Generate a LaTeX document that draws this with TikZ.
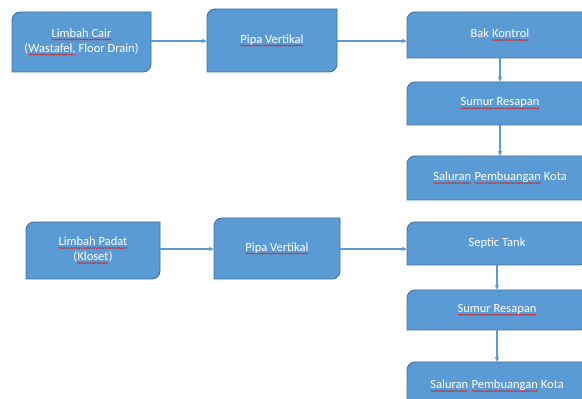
\documentclass[tikz,border=0pt]{standalone}
\usepackage{fontspec}
\setmainfont{Carlito}
\usetikzlibrary{arrows.meta,decorations.pathmorphing}
\definecolor{boxfill}{HTML}{5B9BD5}
\definecolor{boxline}{HTML}{41719C}
\definecolor{linkcol}{HTML}{5B9BD5}
\definecolor{spell}{HTML}{D02020}
\tikzset{
  boxshape/.style={fill=boxfill,draw=boxline,line width=0.9pt},
  boxtext/.style={text=white,font=\fontsize{12.5}{15}\selectfont,align=center,inner sep=0pt},
  link/.style={draw=linkcol,line width=1.1pt,-{Stealth[length=5pt,width=4.5pt]}},
  wavy/.style={draw=spell,line width=0.5pt,decorate,decoration={snake,amplitude=0.6pt,segment length=2.4pt}},
}
\newcommand\sqw[1]{\tikz[baseline=(w.base)]{\node[inner sep=0pt,outer sep=0pt,minimum width=0pt,minimum height=0pt,anchor=base,draw=none,fill=none] (w) {#1}; \draw[wavy] ([yshift=-2.3pt]w.base west) -- ([yshift=-2.3pt]w.base east);}}
% name, x1, top, x2, bottom, text
\newcommand\mybox[6]{%
  \path[boxshape] (#2,#3-8) arc[start angle=180,end angle=90,radius=8] -- (#4,#3) -- (#4,#5+8) arc[start angle=0,end angle=-90,radius=8] -- (#2,#5) -- cycle;
  \node[boxtext,minimum width=#4-#2,minimum height=#3-#5] (#1) at ({(#2+#4)/2},{(#3+#5)/2}) {#6};
}
\begin{document}
\begin{tikzpicture}[x=1pt,y=1pt]
\useasboundingbox (0,0) rectangle (582,399);
\clip (0,0) rectangle (582,399);
\fill[white] (0,0) rectangle (582,399);
% top row
\mybox{cair}{12}{387}{151}{327}{\sqw{Limbah Cair}\\(\sqw{Wastafel,} Floor Drain)}
\mybox{pipa1}{207}{390}{337}{327}{\sqw{Pipa Vertikal}}
\mybox{bak}{407}{387}{593}{341}{Bak \sqw{Kontrol}}
\mybox{sumur1}{407}{317}{593}{274}{\sqw{Sumur Resapan}}
\mybox{kota1}{407}{243}{593}{199}{\sqw{Saluran} \sqw{Pembuangan} Kota}
% bottom row
\mybox{padat}{26}{177}{160}{120}{\sqw{Limbah Padat}\\(\sqw{Kloset})}
\mybox{pipa2}{214}{181}{340}{120}{\sqw{Pipa Vertikal}}
\mybox{septic}{407}{177}{587}{134}{Septic Tank}
\mybox{sumur2}{407}{109}{587}{69}{\sqw{Sumur Resapan}}
\mybox{kota2}{407}{37}{587}{-11}{\sqw{Saluran} \sqw{Pembuangan} Kota}
% connectors
\draw[link] (cair.east |- 0,358) -- (pipa1.west |- 0,358);
\draw[link] (pipa1.east |- 0,358) -- (bak.west |- 0,358);
\draw[link] (bak.south) -- (sumur1.north);
\draw[link] (sumur1.south) -- (kota1.north);
\draw[link] (padat.east |- 0,150) -- (pipa2.west |- 0,150);
\draw[link] (pipa2.east |- 0,150) -- (septic.west |- 0,150);
\draw[link] (septic.south) -- (sumur2.north);
\draw[link] (sumur2.south) -- (kota2.north);
\end{tikzpicture}
\end{document}
